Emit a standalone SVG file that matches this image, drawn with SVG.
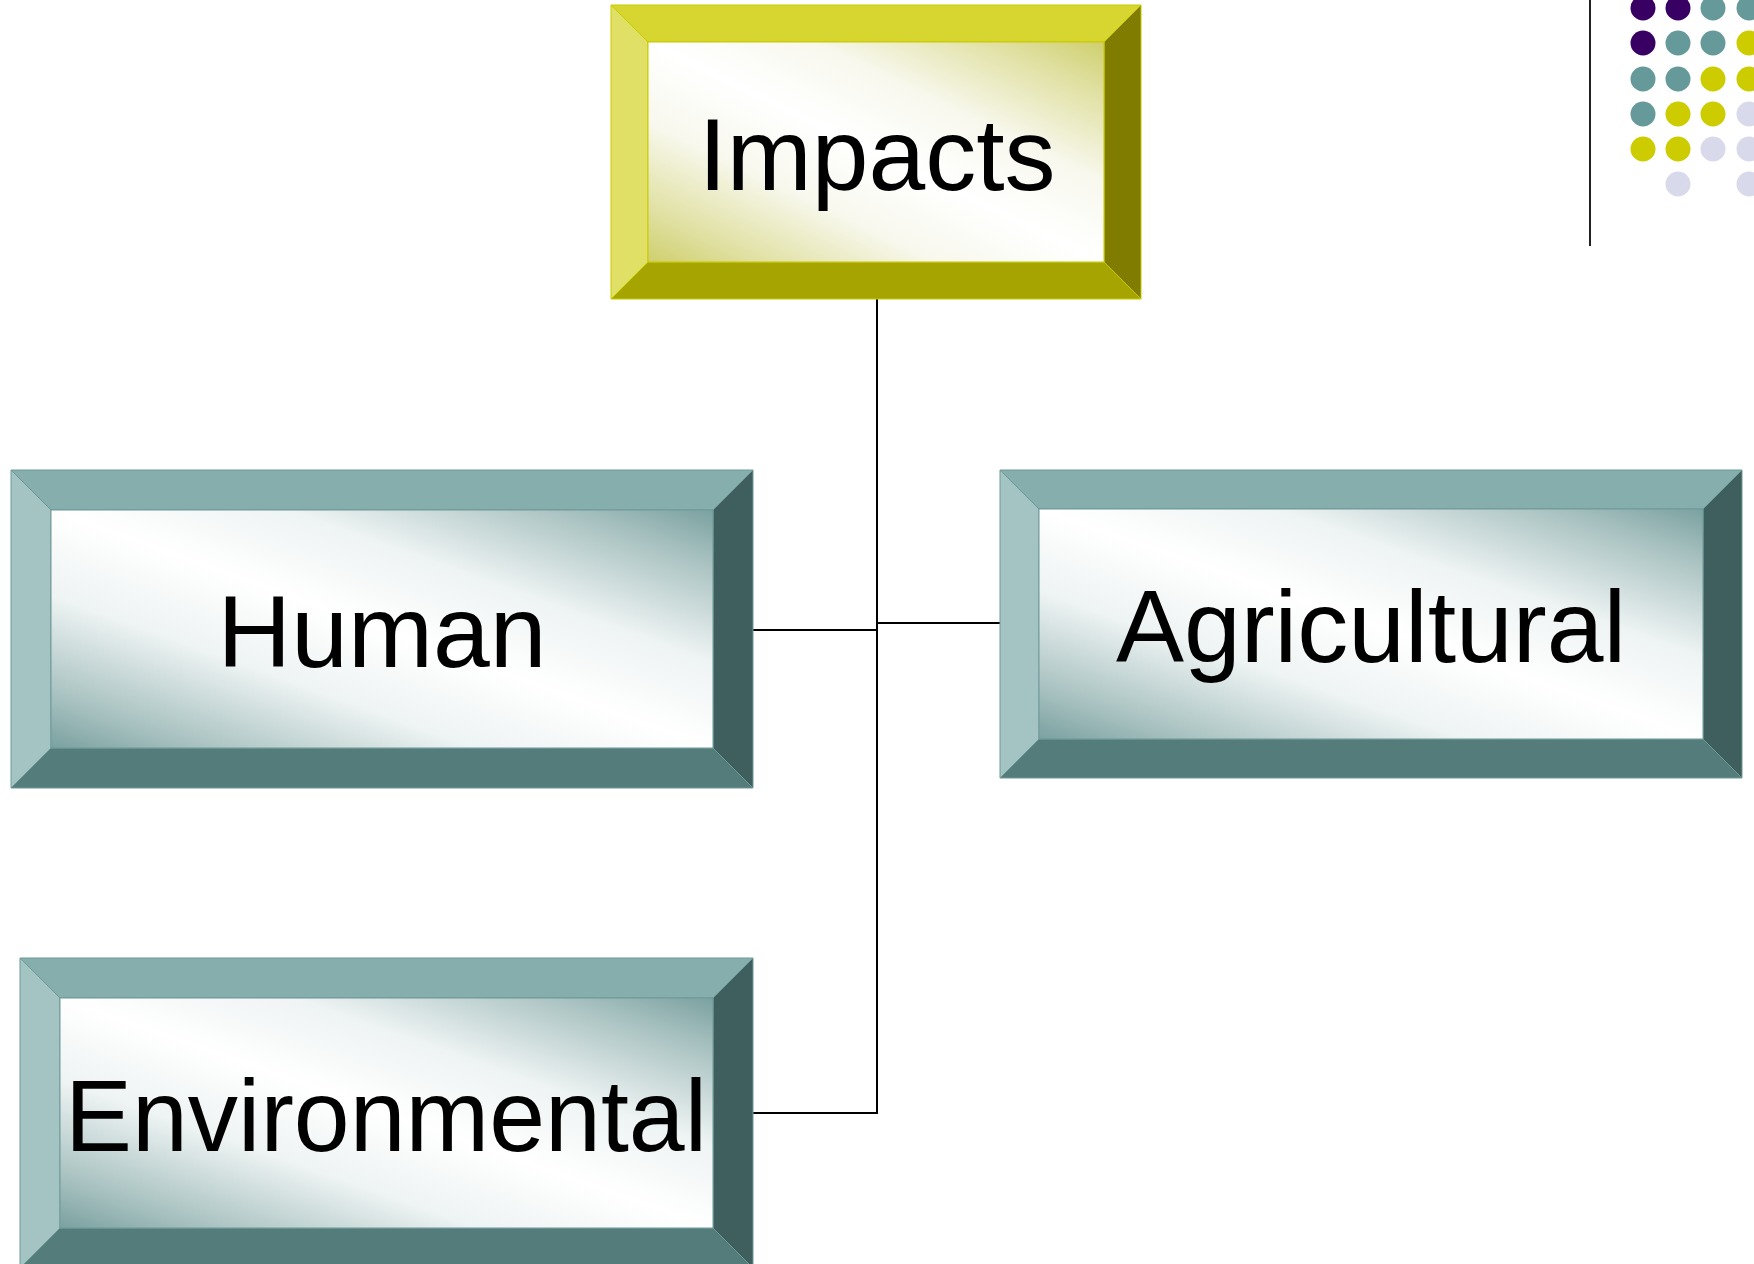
<svg xmlns="http://www.w3.org/2000/svg" width="1754" height="1264" viewBox="0 0 1754 1264">
  <defs>
    <!-- diagonal sheen for the box faces: dark corners, white band along the main diagonal -->
    <linearGradient id="faceOlive" x1="0" y1="1" x2="1" y2="0">
      <stop offset="0" stop-color="#CFCF6E"/>
      <stop offset="0.12" stop-color="#E0E0A2"/>
      <stop offset="0.32" stop-color="#F8F8EE"/>
      <stop offset="0.5" stop-color="#FFFFFF"/>
      <stop offset="0.68" stop-color="#F8F8EE"/>
      <stop offset="0.88" stop-color="#E0E0A2"/>
      <stop offset="1" stop-color="#CFCF6E"/>
    </linearGradient>
    <linearGradient id="faceTeal" x1="0" y1="1" x2="1" y2="0">
      <stop offset="0" stop-color="#7AA1A0"/>
      <stop offset="0.12" stop-color="#AAC3C2"/>
      <stop offset="0.32" stop-color="#EEF3F3"/>
      <stop offset="0.5" stop-color="#FFFFFF"/>
      <stop offset="0.68" stop-color="#EEF3F3"/>
      <stop offset="0.88" stop-color="#AAC3C2"/>
      <stop offset="1" stop-color="#7AA1A0"/>
    </linearGradient>
  </defs>
  <style>
    .olive .top { fill: #D7D631; }
    .olive .left { fill: #E0E067; }
    .olive .right { fill: #7F7C00; }
    .olive .bottom { fill: #A6A400; }
    .olive .face { fill: url(#faceOlive); }
    .olive polygon, .olive rect { stroke: #C9C900; stroke-width: 1; }
    .teal .top { fill: #85AEAC; }
    .teal .left { fill: #A3C4C3; }
    .teal .right { fill: #3F5F5E; }
    .teal .bottom { fill: #547C7B; }
    .teal .face { fill: url(#faceTeal); }
    .teal polygon, .teal rect { stroke: #6E9998; stroke-width: 1; }
    .label { font-family: "Liberation Sans", Arial, sans-serif; font-size: 102px; fill: #000; text-anchor: middle; }
    .wire { stroke: #000; stroke-width: 2; fill: none; }
    .dot-purple { fill: #380062; }
    .dot-teal { fill: #669999; }
    .dot-yellow { fill: #CCCC00; }
    .dot-lav { fill: #D9D9EC; }
  </style>

  <rect width="1754" height="1264" fill="#FFFFFF"/>

  <!-- decorative corner rule and dot grid -->
  <g id="decor">
    <line x1="1590" y1="0" x2="1590" y2="246" stroke="#222" stroke-width="2"/>
    <circle class="dot-purple" cx="1643" cy="8" r="12.5"/>
    <circle class="dot-purple" cx="1678" cy="8" r="12.5"/>
    <circle class="dot-teal" cx="1713" cy="8" r="12.5"/>
    <circle class="dot-teal" cx="1749" cy="8" r="12.5"/>
    <circle class="dot-purple" cx="1643" cy="43" r="12.5"/>
    <circle class="dot-teal" cx="1678" cy="43" r="12.5"/>
    <circle class="dot-teal" cx="1713" cy="43" r="12.5"/>
    <circle class="dot-yellow" cx="1749" cy="43" r="12.5"/>
    <circle class="dot-teal" cx="1643" cy="79" r="12.5"/>
    <circle class="dot-teal" cx="1678" cy="79" r="12.5"/>
    <circle class="dot-yellow" cx="1713" cy="79" r="12.5"/>
    <circle class="dot-yellow" cx="1749" cy="79" r="12.5"/>
    <circle class="dot-teal" cx="1643" cy="114" r="12.5"/>
    <circle class="dot-yellow" cx="1678" cy="114" r="12.5"/>
    <circle class="dot-yellow" cx="1713" cy="114" r="12.5"/>
    <circle class="dot-lav" cx="1749" cy="114" r="12.5"/>
    <circle class="dot-yellow" cx="1643" cy="149" r="12.5"/>
    <circle class="dot-yellow" cx="1678" cy="149" r="12.5"/>
    <circle class="dot-lav" cx="1713" cy="149" r="12.5"/>
    <circle class="dot-lav" cx="1749" cy="149" r="12.5"/>
    <circle class="dot-lav" cx="1678" cy="184" r="12.5"/>
    <circle class="dot-lav" cx="1749" cy="184" r="12.5"/>
  </g>

  <!-- connectors -->
  <g id="connectors">
    <line class="wire" x1="877" y1="299" x2="877" y2="1114"/>
    <line class="wire" x1="753" y1="630" x2="877" y2="630"/>
    <line class="wire" x1="877" y1="623" x2="1000" y2="623"/>
    <line class="wire" x1="753" y1="1113" x2="878" y2="1113"/>
  </g>

  <!-- Impacts: x=611 y=5 w=530 h=294 bevel=37 -->
  <g id="node-impacts" class="olive">
    <polygon class="top" points="611,5 1141,5 1104,42 648,42"/>
    <polygon class="right" points="1141,5 1141,299 1104,262 1104,42"/>
    <polygon class="bottom" points="611,299 1141,299 1104,262 648,262"/>
    <polygon class="left" points="611,5 648,42 648,262 611,299"/>
    <rect class="face" x="648" y="42" width="456" height="220"/>
    <text class="label" x="877" y="190">Impacts</text>
  </g>

  <!-- Human: x=11 y=470 w=742 h=318 bevel=40 -->
  <g id="node-human" class="teal">
    <polygon class="top" points="11,470 753,470 713,510 51,510"/>
    <polygon class="right" points="753,470 753,788 713,748 713,510"/>
    <polygon class="bottom" points="11,788 753,788 713,748 51,748"/>
    <polygon class="left" points="11,470 51,510 51,748 11,788"/>
    <rect class="face" x="51" y="510" width="662" height="238"/>
    <text class="label" x="382" y="667">Human</text>
  </g>

  <!-- Agricultural: x=1000 y=470 w=742 h=308 bevel=39 -->
  <g id="node-agricultural" class="teal">
    <polygon class="top" points="1000,470 1742,470 1703,509 1039,509"/>
    <polygon class="right" points="1742,470 1742,778 1703,739 1703,509"/>
    <polygon class="bottom" points="1000,778 1742,778 1703,739 1039,739"/>
    <polygon class="left" points="1000,470 1039,509 1039,739 1000,778"/>
    <rect class="face" x="1039" y="509" width="664" height="230"/>
    <text class="label" x="1371" y="662">Agricultural</text>
  </g>

  <!-- Environmental: x=20 y=958 w=733 h=310 bevel=40 -->
  <g id="node-environmental" class="teal">
    <polygon class="top" points="20,958 753,958 713,998 60,998"/>
    <polygon class="right" points="753,958 753,1268 713,1228 713,998"/>
    <polygon class="bottom" points="20,1268 753,1268 713,1228 60,1228"/>
    <polygon class="left" points="20,958 60,998 60,1228 20,1268"/>
    <rect class="face" x="60" y="998" width="653" height="230"/>
    <text class="label" x="386" y="1151" textLength="642" lengthAdjust="spacingAndGlyphs">Environmental</text>
  </g>
</svg>
